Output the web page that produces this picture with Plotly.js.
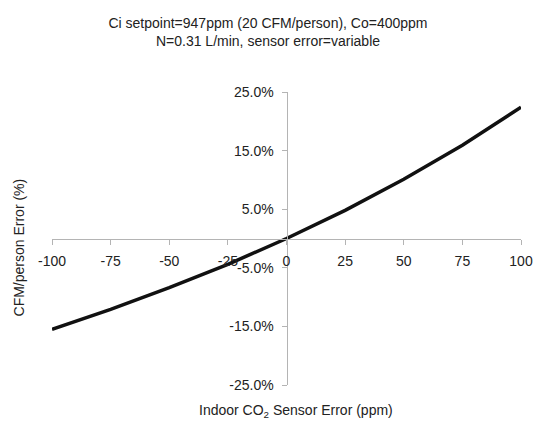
<!DOCTYPE html>
<html>
<head>
<meta charset="utf-8">
<script src="https://cdn.plot.ly/plotly-3.0.1.min.js"></script>
<style>html,body{margin:0;padding:0;background:#fff;}#chart{width:536px;height:423px;}</style>
</head>
<body>
<div id="chart"></div>
<script>
// Indoor CO2 sensor error (ppm)
var sensorError = [-100, -75, -50, -25, 0, 25, 50, 75, 100];
// CFM/person error (%)
var cfmError = [-15.5, -12.1, -8.4, -4.4, 0, 4.8, 10.1, 15.9, 22.4];
var titleLines = ["Ci setpoint=947ppm (20 CFM/person), Co=400ppm", "N=0.31 L/min, sensor error=variable"];
var xTitle = "Indoor CO<sub>2</sub> Sensor Error (ppm)";
var yTitle = "CFM/person Error (%)";
var xTicks = [-100, -75, -50, -25, 0, 25, 50, 75, 100];
var yTicks = [-25, -15, -5, 5, 15, 25];

var font = "Liberation Sans, Arial, sans-serif";
var axisColor = "#b4b4b4";
var textColor = "#222";

var trace = {
  x: sensorError,
  y: cfmError,
  type: "scatter",
  mode: "lines",
  line: {color: "#111", width: 3.5},
  hoverinfo: "skip"
};

var layout = {
  width: 536,
  height: 423,
  margin: {l: 52, r: 15, t: 92, b: 38},
  paper_bgcolor: "#fff",
  plot_bgcolor: "#fff",
  showlegend: false,
  font: {family: font, size: 14, color: textColor},
  title: {
    text: titleLines.join("<br>"),
    font: {family: font, size: 14, color: textColor},
    x: 0.5, xanchor: "center", xref: "container",
    y: 0.934, yanchor: "middle", yref: "container"
  },
  xaxis: {
    range: [-100, 100],
    anchor: "free",
    position: 0.5,
    showgrid: false,
    zeroline: false,
    showline: true,
    linecolor: axisColor,
    linewidth: 1,
    ticks: "outside",
    ticklen: 5,
    tickcolor: axisColor,
    ticklabelstandoff: 5,
    tickvals: xTicks,
    ticktext: xTicks.map(String),
    tickfont: {family: font, size: 14, color: textColor}
  },
  yaxis: {
    range: [-25, 25],
    anchor: "free",
    position: 0.5,
    showgrid: false,
    zeroline: false,
    showline: true,
    linecolor: axisColor,
    linewidth: 1,
    ticks: "outside",
    ticklen: 5,
    tickcolor: axisColor,
    ticklabelstandoff: 5,
    tickvals: yTicks,
    ticktext: yTicks.map(function(v){ return v.toFixed(1) + "%"; }),
    tickfont: {family: font, size: 14, color: textColor}
  },
  annotations: [
    {
      text: xTitle, xref: "paper", yref: "paper",
      x: 0.52, y: -0.09, xanchor: "center", yanchor: "middle",
      showarrow: false, font: {family: font, size: 14, color: textColor}
    },
    {
      text: yTitle, xref: "paper", yref: "paper",
      x: -0.07, y: 0.47, xanchor: "center", yanchor: "middle",
      textangle: -90,
      showarrow: false, font: {family: font, size: 14, color: textColor}
    }
  ]
};

Plotly.newPlot("chart", [trace], layout, {displayModeBar: false, staticPlot: true});
</script>
</body>
</html>
